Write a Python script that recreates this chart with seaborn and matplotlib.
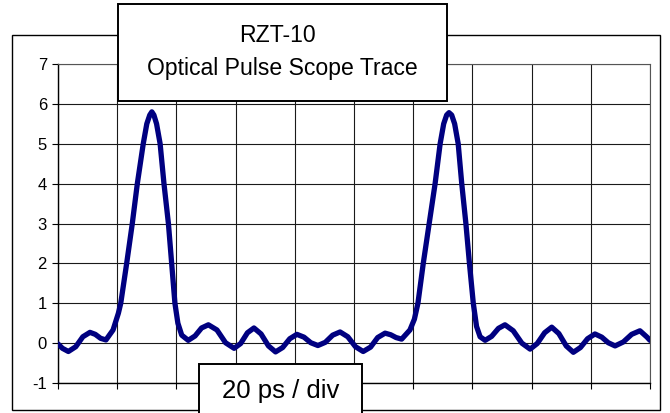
import matplotlib
matplotlib.use("Agg")
import matplotlib.pyplot as plt
from matplotlib.patches import Rectangle
import seaborn as sns

# Time in ps (20 ps / div, 10 divisions)
time_ps = [0.0, 1.5, 3.5, 6.0, 8.4, 10.8, 12.6, 14.4, 16.2, 18.6, 20.4, 21.2,
           23.2, 25.1, 26.8, 28.8, 30.0, 31.0, 31.7, 32.4, 33.3, 34.5, 35.8,
           37.3, 38.4, 39.5, 40.5, 41.8, 44.0, 46.3, 48.5, 50.8, 53.7, 56.6,
           59.5, 61.7, 64.0, 66.2, 68.6, 71.1, 73.5, 75.9, 78.3, 80.7, 83.1,
           85.4, 87.8, 90.3, 92.8, 95.3, 97.9, 100.5, 103.1, 105.6, 108.0,
           110.5, 112.4, 114.2, 116.1, 118.9, 120.4, 121.6, 123.4, 125.4,
           127.4, 129.1, 130.3, 131.3, 132.1, 133.0, 134.0, 135.2, 136.4,
           137.8, 139.0, 140.3, 141.4, 142.6, 144.3, 146.5, 148.8, 151.0,
           153.8, 156.7, 159.5, 161.9, 164.4, 166.8, 169.2, 171.7, 174.1,
           176.5, 178.9, 181.4, 183.7, 185.9, 188.2, 191.0, 193.8, 196.6,
           199.0, 200.0]
power = [-0.02, -0.13, -0.21, -0.09, 0.16, 0.27, 0.22, 0.12, 0.08, 0.33, 0.75, 1.0,
         2.0, 3.0, 4.0, 5.0, 5.5, 5.72, 5.8, 5.72, 5.5, 5.0, 4.0,
         3.0, 2.0, 1.0, 0.5, 0.2, 0.07, 0.18, 0.38, 0.46, 0.33, 0.01,
         -0.13, -0.01, 0.26, 0.38, 0.23, -0.07, -0.22, -0.11, 0.11, 0.22, 0.15,
         0.01, -0.06, 0.02, 0.20, 0.28, 0.16, -0.09, -0.21, -0.10, 0.14,
         0.25, 0.21, 0.14, 0.10, 0.33, 0.6, 1.0, 2.0, 3.0,
         4.0, 5.0, 5.5, 5.72, 5.78, 5.72, 5.5, 5.0, 4.0,
         3.0, 2.0, 1.0, 0.42, 0.16, 0.07, 0.17, 0.37, 0.46,
         0.31, 0.0, -0.15, -0.01, 0.26, 0.40, 0.24, -0.07, -0.23,
         -0.11, 0.11, 0.23, 0.15, 0.01, -0.07, 0.03, 0.22, 0.31,
         0.15, 0.07]

x_ticks = [0, 20, 40, 60, 80, 100, 120, 140, 160, 180, 200]
y_ticks = [-1, 0, 1, 2, 3, 4, 5, 6, 7]

sns.set_style("white")
plt.rcParams["font.family"] = ["Liberation Sans", "DejaVu Sans"]

W, H = 670, 413
fig = plt.figure(figsize=(W / 100, H / 100), dpi=100)
fig.patch.set_facecolor("white")

def fx(px):
    return px / W

def fy(py):
    return 1 - py / H

# outer chart frame
fig.add_artist(Rectangle((fx(12), fy(410)), fx(660) - fx(12), fy(35) - fy(410),
                         transform=fig.transFigure, facecolor="white",
                         edgecolor="black", lw=1.0, zorder=0))

ax = fig.add_axes([fx(58), fy(383), fx(650) - fx(58), fy(64) - fy(383)])
ax.set_facecolor("none")

sns.lineplot(x=time_ps, y=power, ax=ax, color="#000080", lw=3.8, sort=False,
             zorder=3)

ax.set_xlim(0, 200)
ax.set_ylim(-1, 7)
ax.set_xticks(x_ticks)
ax.set_yticks(y_ticks)
ax.set_xticklabels([])
ax.set_yticklabels([str(v) for v in y_ticks], fontsize=12)
ax.grid(True, color="#1a1a1a", lw=0.8)
ax.tick_params(axis="both", direction="out", length=4, width=0.8, color="black",
               labelcolor="black", left=True, bottom=True, pad=4)
for side in ["top", "right"]:
    ax.spines[side].set_color("#555555")
    ax.spines[side].set_linewidth(0.8)
for side in ["left", "bottom"]:
    ax.spines[side].set_color("black")
    ax.spines[side].set_linewidth(1.0)
ax.set_xlabel("")
ax.set_ylabel("")

# title box
fig.add_artist(Rectangle((fx(118), fy(101)), fx(447) - fx(118), fy(4) - fy(101),
                         transform=fig.transFigure, facecolor="white",
                         edgecolor="black", lw=1.4, zorder=5))
fig.text(fx(277), fy(36), "RZT-10", ha="center", va="center", fontsize=16.6,
         color="black", zorder=6)
fig.text(fx(282), fy(69), "Optical Pulse Scope Trace", ha="center",
         va="center", fontsize=16.6, color="black", zorder=6)

# scale box
fig.add_artist(Rectangle((fx(199), fy(425)), fx(362) - fx(199), fy(364) - fy(425),
                         transform=fig.transFigure, facecolor="white",
                         edgecolor="black", lw=1.4, zorder=5))
fig.text(fx(281), fy(391), "20 ps / div", ha="center", va="center",
         fontsize=18.5, color="black", zorder=6)

fig.savefig("out.png", dpi=100)
